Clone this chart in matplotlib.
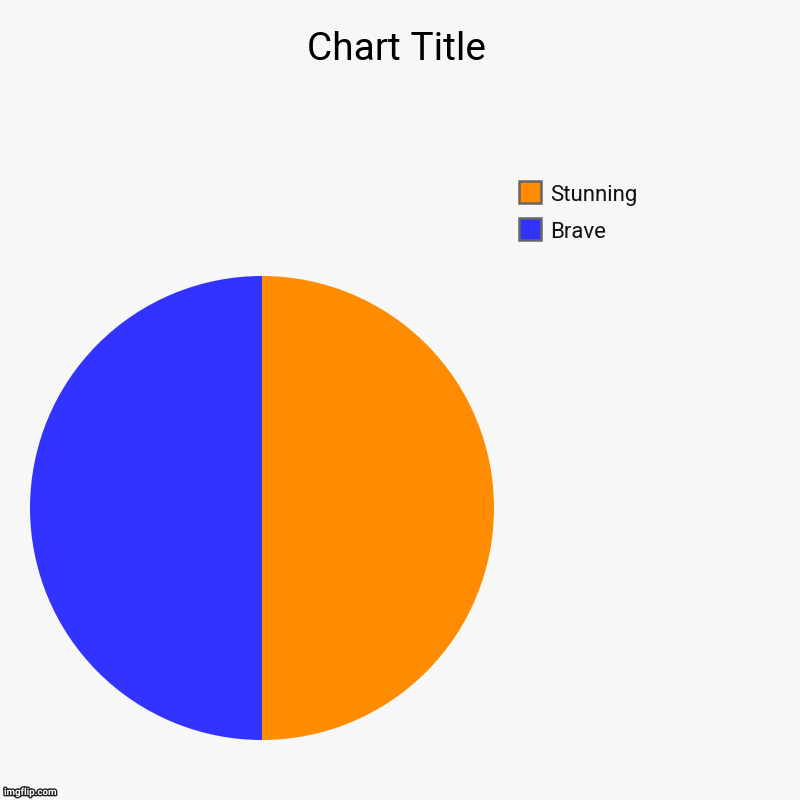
import matplotlib
matplotlib.use("Agg")
import matplotlib.pyplot as plt
import matplotlib.patheffects as pe
from matplotlib.patches import Rectangle

plt.rcParams['font.family'] = ['Roboto', 'DejaVu Sans']

labels = ['Stunning', 'Brave']
values = [50, 50]
colors = ['#ff8c00', '#3333ff']
title = 'Chart Title'

bg = '#f7f7f7'
fig = plt.figure(figsize=(8, 8), dpi=100, facecolor=bg)

# pie: centre ~ (262, 508) px, radius ~232 px
ax = fig.add_axes([30 / 800, 1 - 740 / 800, 464 / 800, 464 / 800])
ax.pie(values, colors=colors, startangle=90, counterclock=False,
       wedgeprops=dict(linewidth=0))
ax.set_xlim(-1, 1)
ax.set_ylim(-1, 1)
ax.set_aspect('equal')
ax.axis('off')

fig.text(396 / 800, 1 - 49 / 800, title, ha='center', va='center',
         fontsize=28, color='#000000')

# legend drawn by hand, top to bottom
for i, (lab, col) in enumerate(zip(labels, colors)):
    y = 181 + i * 37
    fig.patches.append(Rectangle((519 / 800, 1 - (y + 22) / 800), 22 / 800, 22 / 800,
                                 transform=fig.transFigure, facecolor=col,
                                 edgecolor='#666666', linewidth=1.8))
    fig.text(550 / 800, 1 - (y + 14) / 800, lab, ha='left', va='center',
             fontsize=16, color='#111111')

fig.text(4 / 800, 1 - 792 / 800, 'imgflip.com', ha='left', va='center',
         fontsize=7, color='white', fontweight='bold',
         path_effects=[pe.withStroke(linewidth=2, foreground='#222222')])

fig.savefig('out.png', facecolor=bg)
